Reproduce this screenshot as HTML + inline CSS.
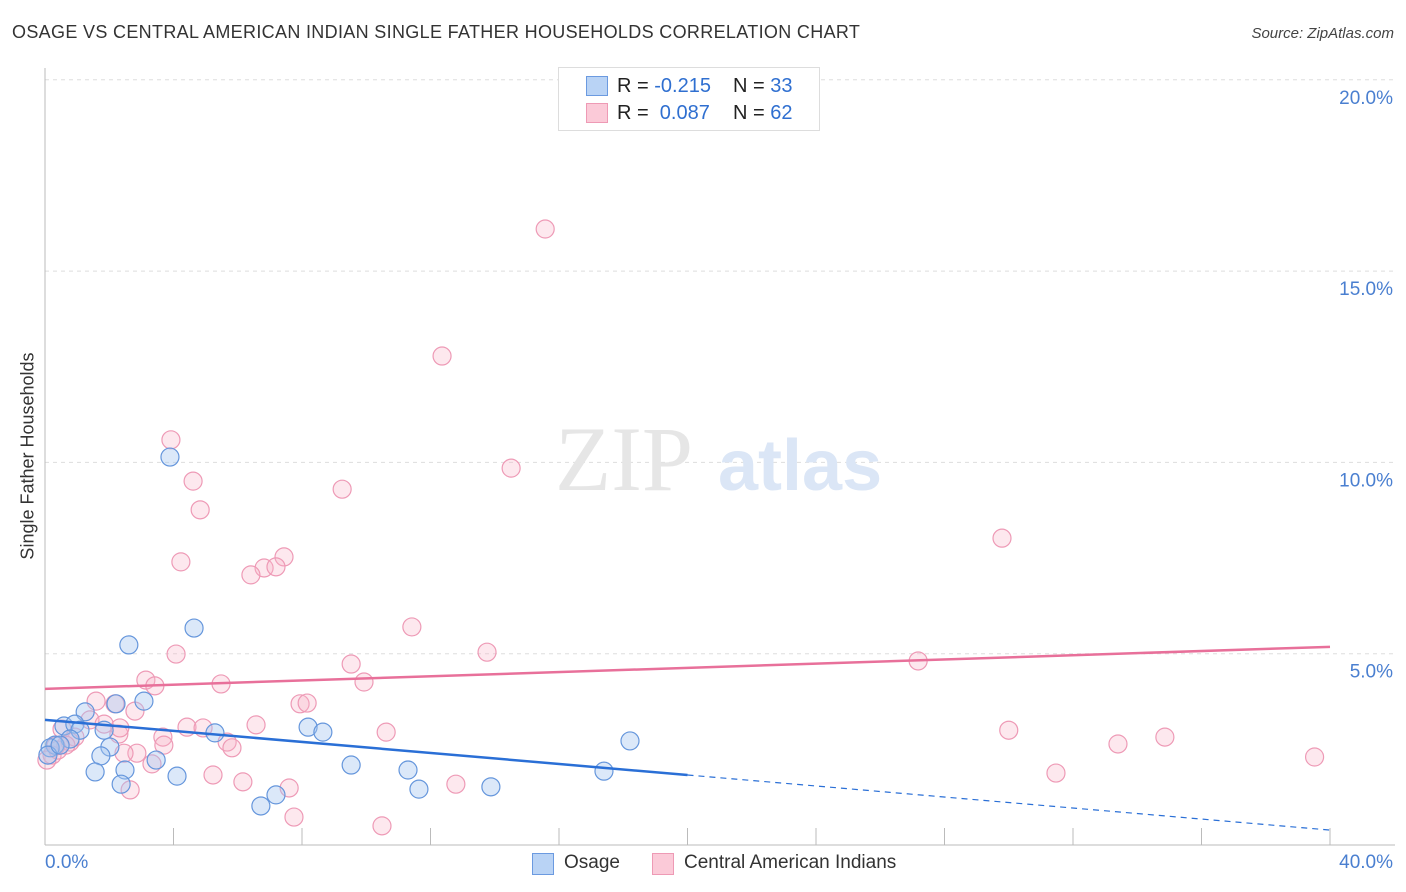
<!DOCTYPE html>
<html><head><meta charset="utf-8">
<style>
body{margin:0;background:#fff;font-family:"Liberation Sans",sans-serif;}
#wrap{position:relative;width:1406px;height:892px;overflow:hidden;}
.t{position:absolute;white-space:nowrap;}
</style></head>
<body>
<div id="wrap">
<div class="t" style="left:12px;top:22px;font-size:18px;color:#333;letter-spacing:0.33px;">OSAGE VS CENTRAL AMERICAN INDIAN SINGLE FATHER HOUSEHOLDS CORRELATION CHART</div>
<div class="t" style="right:12px;top:25px;font-size:15px;color:#444;font-style:italic;">Source: ZipAtlas.com</div>
<svg id="svg" width="1406" height="892" style="position:absolute;left:0;top:0"></svg>
</div>
<script>
const xTicks=[0,4,8,12,16,20,24,28,32,36,40];
const yTicks=[5,10,15,20];
const yTickLabels=["5.0%","10.0%","15.0%","20.0%"];
const osageX=[3.89,4.64,2.61,3.08,2.21,1.25,0.59,0.93,1.09,1.84,5.29,8.19,8.65,18.21,0.78,0.31,0.16,2.02,1.74,3.46,9.53,1.56,2.49,4.11,11.3,17.4,2.37,11.64,13.88,7.19,6.72,0.09,0.47];
const osageY=[10.14,5.67,5.23,3.76,3.69,3.48,3.11,3.16,3.0,3.0,2.93,3.08,2.95,2.72,2.77,2.61,2.54,2.56,2.33,2.22,2.09,1.91,1.96,1.80,1.96,1.93,1.59,1.46,1.52,1.31,1.02,2.35,2.61];
const camX=[15.57,12.36,3.92,14.51,4.61,9.25,4.83,29.79,4.23,7.44,6.82,6.41,7.19,11.42,13.76,4.08,9.53,27.18,3.14,3.42,5.48,9.93,1.59,7.94,8.16,2.18,2.80,1.40,1.84,0.53,4.42,4.92,6.57,30.0,10.62,34.86,3.67,2.30,5.67,5.82,3.70,33.4,0.93,0.78,2.86,2.46,39.52,3.33,0.22,0.06,0.40,5.23,31.47,6.16,7.6,12.79,2.65,7.75,10.49,0.65,2.33,0.34];
const camY=[16.1,12.78,10.59,9.85,9.51,9.30,8.76,8.02,7.40,7.53,7.24,7.06,7.27,5.70,5.04,4.99,4.73,4.81,4.31,4.16,4.21,4.26,3.76,3.69,3.71,3.69,3.50,3.27,3.16,3.03,3.08,3.06,3.14,3.0,2.95,2.82,2.82,2.90,2.69,2.54,2.61,2.64,2.82,2.69,2.40,2.40,2.30,2.12,2.35,2.22,2.48,1.83,1.88,1.65,1.49,1.59,1.44,0.73,0.50,2.61,3.06,2.59];
const camTrend=[4.08,5.18];
const osageTrend=[3.27,1.83,0.39];
const X=v=>45+v/40*1285, Y=v=>845-v/5*191.3;
const svg=document.getElementById('svg');
const NS='http://www.w3.org/2000/svg';
function mk(tag,attrs,parent){const e=document.createElementNS(NS,tag);for(const k in attrs)e.setAttribute(k,attrs[k]);(parent||svg).appendChild(e);return e;}
yTicks.forEach((v,i)=>{
 const g=mk('line',{x1:45,x2:1395,y1:Y(v),y2:Y(v),stroke:'#ddd','stroke-dasharray':'4,4'});
 
 
 const t=mk('text',{x:1393,y:Y(v)+24,'text-anchor':'end','font-size':19,fill:'#4a7fd0'});
 t.textContent=yTickLabels[i];
 
 
});
const ax=mk('line',{x1:45,x2:45,y1:68,y2:845,stroke:'#bbb'});


const bx=mk('line',{x1:45,x2:1395,y1:845,y2:845,stroke:'#bbb'});


xTicks.forEach(v=>{
 const l=mk('line',{x1:X(v),x2:X(v),y1:828,y2:845,stroke:'#bbb'});
 
 
});
const wm1=mk('text',{x:555,y:490,'font-size':92,fill:'#e6e6e6','font-family':'Liberation Serif'});
wm1.textContent='ZIP';


const wm2=mk('text',{x:718,y:490,'font-size':72,fill:'#dbe6f6','font-weight':'bold'});
wm2.textContent='atlas';


camX.forEach((x,i)=>{
 const c=mk('circle',{cx:X(x),cy:Y(camY[i]),r:9,fill:'rgba(248,180,200,0.3)',stroke:'#ee9ab6','stroke-width':1.2});
 
 
});
osageX.forEach((x,i)=>{
 const c=mk('circle',{cx:X(x),cy:Y(osageY[i]),r:9,fill:'rgba(165,198,240,0.4)',stroke:'#6596dc','stroke-width':1.2});
 
 
});
const pl=mk('line',{x1:X(0),y1:Y(camTrend[0]),x2:X(40),y2:Y(camTrend[1]),stroke:'#e8709a','stroke-width':2.5});


const bl=mk('line',{x1:X(0),y1:Y(osageTrend[0]),x2:X(20),y2:Y(osageTrend[1]),stroke:'#2a6fd6','stroke-width':2.5});


const bd=mk('line',{x1:X(20),y1:Y(osageTrend[1]),x2:X(40),y2:Y(osageTrend[2]),stroke:'#2a6fd6','stroke-width':1.2,'stroke-dasharray':'6,5'});


</script>
<div class="t" style="left:28px;top:456px;font-size:18px;color:#333;transform:translate(-50%,-50%) rotate(-90deg);">Single Father Households</div>
<div class="t" style="left:45px;top:852px;font-size:19px;color:#4a7fd0;">0.0%</div>
<div class="t" style="right:13px;top:852px;font-size:19px;color:#4a7fd0;">40.0%</div>
<div style="position:absolute;left:558px;top:67px;width:260px;height:62px;border:1px solid #ddd;background:#fff;font-size:20px;color:#222;">
 <div style="position:absolute;left:27px;top:8px;width:20px;height:18px;background:#b9d3f5;border:1px solid #6b9ae0;"></div>
 <div class="t" style="left:58px;top:7px;">R = <span style="color:#2f6fd0">-0.215</span></div>
 <div class="t" style="left:174px;top:7px;">N = <span style="color:#2f6fd0">33</span></div>
 <div style="position:absolute;left:27px;top:35px;width:20px;height:18px;background:#fbcad8;border:1px solid #ee9ab5;"></div>
 <div class="t" style="left:58px;top:34px;">R = &nbsp;<span style="color:#2f6fd0">0.087</span></div>
 <div class="t" style="left:174px;top:34px;">N = <span style="color:#2f6fd0">62</span></div>
</div>
<div style="position:absolute;left:532px;top:852px;font-size:19px;color:#333;">
 <div style="position:absolute;left:0;top:1px;width:20px;height:20px;background:#b9d3f5;border:1px solid #6b9ae0;"></div>
 <div class="t" style="left:32px;top:0;">Osage</div>
 <div style="position:absolute;left:120px;top:1px;width:20px;height:20px;background:#fbcad8;border:1px solid #ee9ab5;"></div>
 <div class="t" style="left:152px;top:0;">Central American Indians</div>
</div>
</body></html>
